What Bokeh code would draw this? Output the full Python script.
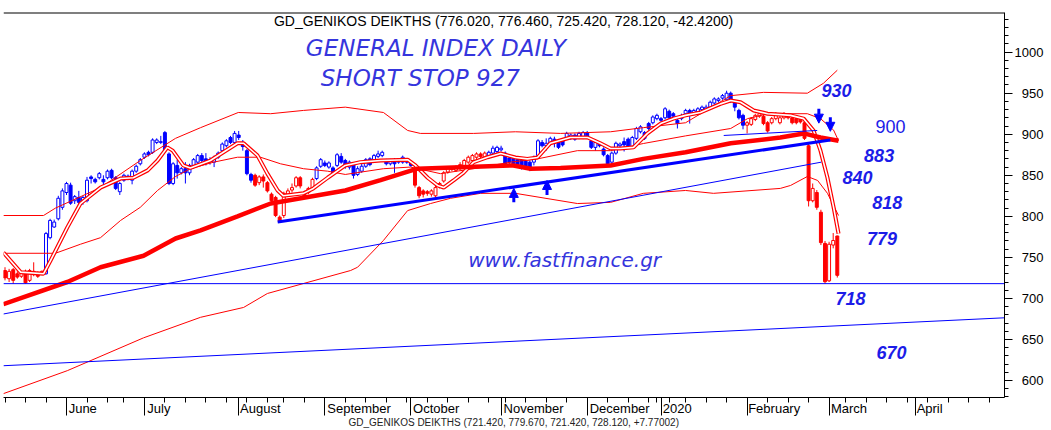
import numpy as np
import pandas as pd
from bokeh.plotting import figure
from bokeh.models import ColumnDataSource, Range1d, FixedTicker, Arrow, NormalHead, Span
from bokeh.embed import file_html
from bokeh.resources import INLINE
from bokeh.core.properties import value

# ---------------- calendar (trading days) ----------------
holidays = ["2019-06-17", "2019-08-15", "2019-10-28", "2019-12-24", "2019-12-25",
            "2019-12-26", "2019-12-31", "2020-01-01", "2020-01-06", "2020-03-02"]
hist_days = pd.bdate_range("2019-05-13", "2020-03-05")
hist_days = hist_days[~hist_days.isin(pd.to_datetime(holidays))]
future_days = pd.bdate_range("2020-03-06", "2020-04-30")
dates = hist_days.append(future_days)

month_names = {6: "June", 7: "July", 8: "August", 9: "September", 10: "October",
               11: "November", 12: "December", 1: "2020", 2: "February", 3: "March", 4: "April"}
y_ticks = [600, 650, 700, 750, 800, 850, 900, 950, 1000]

# ---------------- daily candles ----------------
opens = [734, 724, 735, 730, 727, 733, 722, 733, 731, 731,
         730, 774, 787, 797, 811, 829, 838, 819, 823, 819,
         819, 848, 845, 847, 845, 847, 856, 847, 830, 844,
         849, 844, 855, 864, 872, 878, 878, 890, 890, 902,
         876, 840, 862, 853, 858, 853, 860, 866, 874, 870,
         867, 866, 872, 880, 886, 896, 890, 899, 890, 880,
         851, 850, 841, 848, 841, 827, 823, 799, 801, 827,
         832, 837, 847, 829, 829, 833, 846, 861, 865, 860,
         859, 862, 873, 868, 860, 864, 851, 855, 861, 870,
         869, 873, 874, 868, 864, 868, 866, 866, 869, 866,
         858, 835, 831, 830, 827, 825, 836, 843, 854, 859,
         856, 858, 862, 866, 868, 872, 876, 872, 872, 877,
         879, 881, 877, 871, 871, 869, 869, 867, 866, 866,
         874, 890, 886, 888, 894, 892, 892, 895, 895, 899,
         896, 896, 902, 892, 884, 888, 882, 874, 866, 877,
         886, 891, 894, 884, 895, 903, 902, 913, 914, 919,
         919, 920, 928, 925, 917, 919, 925, 929, 926, 925,
         930, 930, 933, 938, 941, 944, 942, 950, 938, 929,
         923, 911, 912, 918, 922, 922, 914, 914, 919, 914,
         920, 923, 920, 919, 919, 914, 886, 819, 829, 805,
         767, 721.42, 765, 776.02]
highs = [738, 736, 737, 733, 733, 735, 736, 744, 733, 734,
         781, 797, 796, 825, 834, 842, 841, 826, 831, 825,
         848, 850, 847, 854, 850, 857, 858, 849, 842, 852,
         851, 857, 863, 871, 878, 880, 895, 895, 898, 904,
         878, 866, 869, 860, 866, 864, 871, 876, 877, 877,
         872, 874, 879, 890, 894, 898, 904, 904, 893, 882,
         853, 852, 850, 851, 843, 829, 825, 801, 830, 834,
         840, 849, 849, 831, 836, 847, 861, 871, 868, 867,
         861, 877, 877, 870, 868, 866, 861, 864, 871, 872,
         876, 880, 880, 870, 870, 871, 870, 874, 871, 868,
         861, 837, 833, 832, 833, 837, 842, 855, 860, 861,
         862, 866, 870, 874, 876, 878, 878, 879, 880, 886,
         886, 886, 879, 873, 873, 871, 871, 869, 868, 874,
         894, 893, 895, 897, 897, 894, 894, 903, 901, 901,
         903, 904, 904, 894, 892, 890, 884, 876, 879, 891,
         890, 896, 896, 898, 909, 911, 904, 915, 923, 925,
         921, 933, 930, 927, 919, 925, 931, 931, 931, 933,
         935, 936, 941, 945, 945, 949, 953, 952, 940, 931,
         925, 916, 921, 925, 927, 924, 916, 921, 927, 922,
         927, 925, 923, 921, 921, 916, 889, 840, 832, 808,
         770, 769, 779.67, 776.46]
lows = [722, 720, 718, 724, 725, 718, 720, 727, 725, 729,
        729, 772, 786, 795, 808, 826, 814, 815, 815, 814,
        817, 840, 840, 845, 837, 845, 845, 832, 826, 842,
        844, 839, 853, 862, 870, 873, 876, 888, 888, 878,
        838, 838, 846, 851, 840, 850, 858, 864, 866, 862,
        863, 860, 870, 878, 884, 888, 888, 893, 880, 850,
        841, 836, 838, 835, 829, 816, 799, 792, 798, 824,
        829, 835, 834, 821, 827, 831, 844, 859, 860, 858,
        851, 860, 864, 858, 857, 846, 849, 853, 859, 861,
        867, 871, 872, 862, 862, 853, 864, 864, 864, 860,
        835, 822, 823, 825, 824, 823, 834, 841, 852, 855,
        854, 856, 860, 864, 866, 870, 870, 870, 870, 875,
        877, 879, 862, 862, 861, 860, 857, 857, 855, 862,
        872, 884, 880, 886, 884, 882, 885, 893, 893, 892,
        894, 894, 894, 882, 880, 884, 873, 862, 864, 875,
        884, 879, 882, 882, 893, 901, 893, 905, 912, 917,
        915, 918, 918, 920, 907, 917, 923, 913, 924, 923,
        928, 928, 931, 936, 939, 942, 940, 938, 928, 918,
        906, 901, 910, 916, 920, 911, 902, 912, 917, 912,
        918, 918, 912, 912, 913, 893, 812, 817, 808, 765,
        718, 720, 761, 725.42]
closes = [725, 733, 722, 726, 731, 719, 734, 729, 727, 733,
          779, 795, 793, 822, 831, 840, 816, 824, 817, 823,
          844, 846, 842, 852, 842, 855, 847, 834, 840, 850,
          846, 855, 861, 869, 876, 875, 893, 893, 891, 880,
          840, 864, 853, 858, 853, 862, 869, 874, 868, 866,
          869, 872, 877, 888, 892, 890, 901, 896, 885, 852,
          844, 838, 848, 843, 831, 819, 801, 794, 828, 831,
          835, 847, 837, 825, 834, 845, 859, 869, 862, 865,
          853, 875, 866, 862, 866, 850, 858, 861, 869, 863,
          874, 876, 878, 864, 868, 864, 868, 872, 866, 862,
          838, 825, 827, 828, 831, 835, 840, 853, 858, 857,
          860, 863, 868, 872, 874, 876, 873, 877, 878, 883,
          884, 883, 864, 866, 863, 863, 860, 860, 858, 872,
          892, 886, 889, 895, 889, 884, 887, 901, 899, 894,
          901, 902, 896, 884, 890, 886, 875, 864, 877, 889,
          888, 887, 884, 896, 907, 909, 895, 907, 921, 923,
          917, 931, 920, 922, 913, 923, 929, 923, 929, 931,
          933, 933, 939, 943, 943, 947, 950, 940, 933, 920,
          911, 914, 919, 923, 925, 913, 904, 919, 925, 920,
          924, 920, 914, 914, 915, 895, 819, 834, 811, 768,
          720.35, 766, 770.54, 728.12]
# B = blue regime, R = red regime (as coloured in the chart)
regime = "R" * 10 + "B" * 51 + "R" * 15 + "B" * 24 + "R" * 18 + "B" * 63 + "R" * 23

# ---------------- indicator lines ----------------
ma_long_x = [-0.4, 15.2, 23.3, 33.8, 41.6, 47.7, 56.7, 64.8, 83, 91.6, 100.6, 124, 128.2,
             135.5, 147.7, 155.7, 166, 177, 189.1, 194.8, 198.9, 203.3]
ma_long_y = [693, 720, 738, 752, 773, 783, 800, 815.6, 831.5, 844, 858, 862, 858,
             859, 862, 870, 878, 889, 896, 901, 896, 892]

band_up_x = [-0.4, 9.4, 12.3, 23.3, 33, 41.6, 47.7, 56.9, 64.8, 72.8, 83, 92.3, 98.2, 101.3,
             114.3, 124.5, 135.5, 147.7, 155.7, 166, 177, 185, 195.7, 199.6, 203]
band_up_y = [801, 801, 810, 835, 868, 895, 908, 926.5, 925, 929, 933, 926.5, 904.6, 901,
             901, 903, 901, 903, 908, 914, 947, 951, 950, 962, 978]

ma_mid_x = [-0.4, 12.3, 18.4, 23.3, 28.2, 33, 37.2, 41.6, 45.2, 50.9, 56.7, 62.3, 67.2, 72.8,
            78.7, 83, 92.3, 98.9, 106.2, 114.3, 123.3, 129.9, 139.6, 147.7, 155.7, 166,
            177, 181.1, 186, 195.7, 198.9, 202.1, 203.3]
ma_mid_y = [755, 755, 766, 774, 795, 811, 831.5, 848.5, 858, 866, 872, 872, 864, 858,
            855, 851, 858, 860, 852, 858, 866, 870, 880, 880, 888.7, 898,
            907, 919, 925, 925, 919, 905, 892]

ma_short_x = [-0.4, 3.8, 9.4, 11.1, 15.2, 18.4, 23.3, 28.2, 31.3, 34.8, 37.2, 39.6, 40.9, 43.5,
              45.2, 50.1, 56.7, 58.2, 61.6, 64, 66.5, 67.9, 72.8, 75.2, 78.7, 83, 86.7,
              91.6, 98.2, 100.1, 103.1, 105.5, 107, 109.4, 111.8, 114.3, 117.7, 120.9,
              124.5, 127.4, 129.9, 133, 137.9, 142.1, 145.2, 147.7, 150.1, 153.3, 156.7,
              159.9, 163, 166, 169.6, 174.5, 177, 179.4, 182.6, 186, 191.6, 194.8, 197.2,
              198.9, 200.6, 202.1, 203.3]
ma_short_y = [756, 732, 730, 746, 786.5, 815.6, 835, 846, 847, 856, 868, 884, 880, 862,
              859, 868, 889, 889, 874, 852, 831.5, 825, 828, 834, 847, 862, 866,
              868, 869, 862, 847, 837.6, 835, 843.7, 853, 866, 872, 876.5,
              871.7, 870, 871.7, 889, 896, 896, 889, 882.6, 882.6, 884, 901,
              913, 919, 923, 926.5, 937, 941, 939, 929, 925, 923, 919, 904.6,
              880, 847, 811, 779]

band_lo_x = [-0.4, 15.2, 33.8, 47.7, 58.2, 64, 84.3, 86, 92.3, 98.2, 103.8, 108.7, 116, 124.5,
             139.6, 147.7, 155.7, 166, 172.8, 189.1, 191.6, 195.7, 198.2, 200.6, 203.3]
band_lo_y = [584, 612, 652, 677, 689, 706, 734, 738, 770.6, 807, 815.6, 822, 828, 828,
             815.6, 817, 828, 831.5, 828, 834, 837.6, 848.5, 843.7, 828, 801]

# ---------------- drawn trend lines ----------------
trend_x0 = [66.5, -0.4, -0.4, -0.4, 175.3]
trend_y0 = [793, 681, 718, 618, 898.5]
trend_x1 = [201.3, 199.1, 243.8, 243.8, 198.1]
trend_y1 = [893, 866, 718, 676.4, 904.6]
trend_w = [3, 1, 1, 1, 1]

# ---------------- arrows ----------------
arrow_x = [124.1, 132.2, 198.5, 201.3]
arrow_from = [817, 826, 931, 920.7]
arrow_to = [834, 843.7, 913.5, 903.6]

# ---------------- level labels ----------------
level_text = ["930", "883", "840", "818", "779", "718", "670"]
level_x = [202.8, 213.2, 207.9, 215.2, 213.9, 206.2, 216.2]
level_y = [953.3, 873.5, 847.3, 816.9, 772.4, 699.3, 634.7]
plain_text = ["900"]
plain_x = [216]
plain_y = [910]

RED = "#ff0000"
BLUE = "#0000ff"
LBL = "#1c1ce8"
SCRIPT = "#3535dd"
NBSP = "\u00a0"

p = figure(width=1051, height=430, output_backend="svg", toolbar_location=None,
           x_range=Range1d(-0.366, 243.78), y_range=Range1d(579.3, 1048.3),
           y_axis_location="right", min_border_left=3, min_border_right=47,
           min_border_top=12, min_border_bottom=33)
p.outline_line_color = None
p.xgrid.visible = False
p.ygrid.visible = False
p.background_fill_color = "white"
p.border_fill_color = "white"

# ---- x axis: month separators (long ticks), weekly minor ticks, names right of the separator
arial = {'J': .5, 'u': .556, 'n': .556, 'e': .556, 'l': .222, 'y': .5, 'A': .667, 'g': .556,
         's': .5, 't': .278, 'S': .667, 'p': .556, 'm': .833, 'b': .556, 'r': .333, 'O': .778,
         'c': .5, 'o': .556, 'N': .722, 'v': .5, 'D': .722, '2': .556, '0': .556, 'F': .611,
         'a': .556, 'M': .833, 'h': .556, 'i': .222}
FS = 13
month_idx = [i for i in range(1, len(dates)) if dates[i].month != dates[i - 1].month]
week_idx = [0] + [i for i in range(1, len(dates))
                  if dates[i].isocalendar()[1] != dates[i - 1].isocalendar()[1]]
overrides = {}
for i in month_idx:
    name = month_names[dates[i].month]
    w = sum(arial.get(ch, .556) for ch in name) * FS
    npad = int(round((w + 4) / (0.278 * FS)))
    overrides[i] = NBSP * npad + name
p.xaxis.ticker = FixedTicker(ticks=month_idx, minor_ticks=week_idx)
p.xaxis.major_label_overrides = overrides
p.xaxis.major_label_text_font = "Liberation Sans"
p.xaxis.major_label_text_font_size = f"{FS}px"
p.xaxis.major_label_text_color = "black"
p.xaxis.major_label_standoff = -15
p.xaxis.major_tick_out = 18
p.xaxis.major_tick_in = 0
p.xaxis.minor_tick_out = 5
p.xaxis.minor_tick_in = 0
p.xaxis.axis_line_color = "black"
p.xaxis.major_tick_line_color = "black"
p.xaxis.minor_tick_line_color = "black"
p.xaxis.axis_label = NBSP * 7 + "GD_GENIKOS DEIKTHS (721.420, 779.670, 721.420, 728.120, +7.77002)"
p.xaxis.axis_label_text_font = "Liberation Sans"
p.xaxis.axis_label_text_font_style = "normal"
p.xaxis.axis_label_text_font_size = "10px"
p.xaxis.axis_label_text_color = "#222222"
p.xaxis.axis_label_standoff = -2

# ---- y axis on the right
p.yaxis.ticker = FixedTicker(ticks=y_ticks, minor_ticks=list(range(580, 1050, 10)))
p.yaxis.major_label_overrides = {t: (NBSP * 2 if t < 1000 else "") + str(t) for t in y_ticks}
p.yaxis.major_tick_out = 8
p.yaxis.major_tick_in = 0
p.yaxis.minor_tick_out = 4
p.yaxis.minor_tick_in = 0
p.yaxis.major_label_standoff = 2
p.yaxis.major_label_text_font = "Liberation Sans"
p.yaxis.major_label_text_font_size = "13px"
p.yaxis.major_label_text_color = "black"
p.yaxis.axis_line_color = "black"

# ---- candles
o = np.array(opens, float)
c = np.array(closes, float)
xs = np.arange(len(o))
col = np.array([BLUE if r == "B" else RED for r in regime])
fill = np.where(c >= o, "white", col)
src = ColumnDataSource(dict(x=xs, h=highs, l=lows, top=np.maximum(o, c), bot=np.minimum(o, c),
                            col=col, fill=fill))
p.segment("x", "h", "x", "l", source=src, line_color="col", line_width=1)
p.vbar(x="x", width=0.72, top="top", bottom="bot", source=src, fill_color="fill",
       line_color="col", line_width=1)

# ---- indicator lines
p.line(band_up_x, band_up_y, line_color=RED, line_width=1)
p.line(band_lo_x, band_lo_y, line_color=RED, line_width=1)
p.line(ma_mid_x, ma_mid_y, line_color=RED, line_width=1)
p.line(ma_short_x, ma_short_y, line_color=RED, line_width=4)
p.line(ma_short_x, ma_short_y, line_color="white", line_width=1.6)
p.line(ma_long_x, ma_long_y, line_color=RED, line_width=4.5)

# ---- trend lines
p.segment(trend_x0, trend_y0, trend_x1, trend_y1, line_color=BLUE, line_width=trend_w)

# ---- arrows
for ax, a0, a1 in zip(arrow_x, arrow_from, arrow_to):
    p.add_layout(Arrow(end=NormalHead(size=9, fill_color=BLUE, line_color=BLUE),
                       x_start=ax, y_start=a0, x_end=ax, y_end=a1,
                       line_color=BLUE, line_width=3))

# ---- level labels
p.text(level_x, level_y, text=level_text, text_font=value("Liberation Sans"),
       text_font_style="bold italic", text_font_size="18px", text_color=LBL,
       text_align="center", text_baseline="middle")
p.text(plain_x, plain_y, text=plain_text, text_font=value("Liberation Sans"),
       text_font_size="18px", text_color=LBL, text_align="center", text_baseline="middle")

# ---- script notes
p.text([105.1, 101.3], [1004.5, 969], text=["GENERAL INDEX DAILY", "SHORT STOP 927"],
       text_font=value("DejaVu Sans"), text_font_style="italic", text_font_size="23px",
       text_color=SCRIPT, text_align="center", text_baseline="middle")
p.text([136.5], [747.4], text=["www.fastfinance.gr"],
       text_font=value("DejaVu Sans"), text_font_style="italic", text_font_size="20px",
       text_color=SCRIPT, text_align="center", text_baseline="middle")

# ---- header
p.text([121.6], [1037.4], text=["GD_GENIKOS DEIKTHS (776.020, 776.460, 725.420, 728.120, -42.4200)"],
       text_font=value("Liberation Sans"), text_font_size="14px", text_color="black",
       text_align="center", text_baseline="middle")

p.add_layout(Span(location=1048.3, dimension="width", line_color="black", line_width=2))

open("out.html", "w").write(file_html(p, INLINE))
